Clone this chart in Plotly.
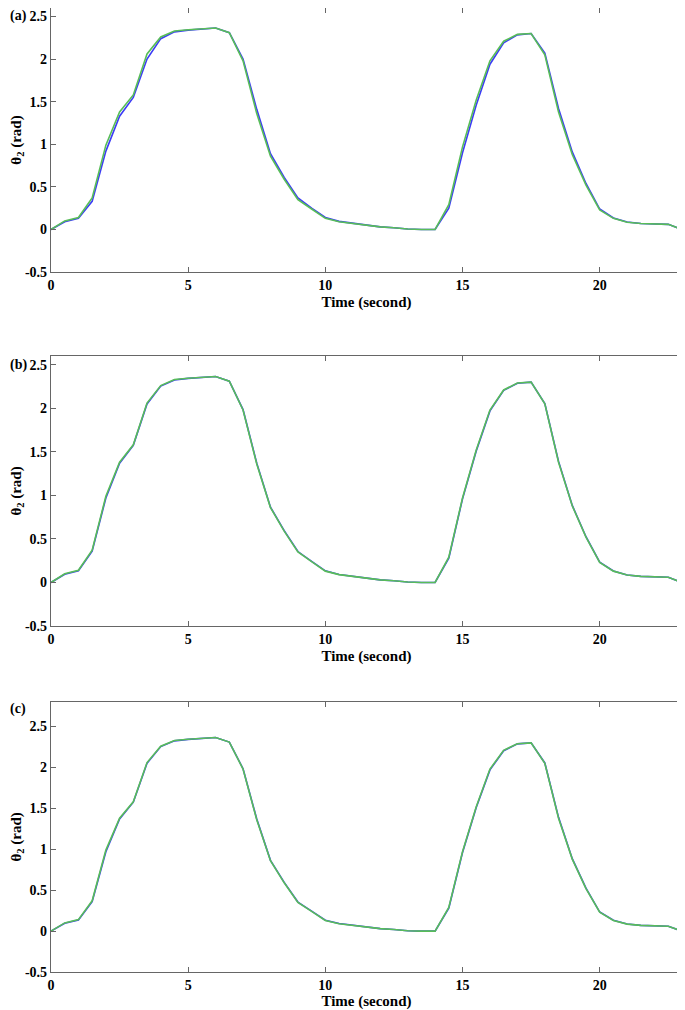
import plotly.graph_objects as go

# time samples (s)
time_s = [0, 0.5, 1, 1.5, 2, 2.5, 3, 3.5, 4, 4.5, 5, 5.5, 6, 6.5, 7, 7.5, 8, 8.5, 9, 9.5,
          10, 10.5, 11, 11.5, 12, 12.5, 13, 13.5, 14, 14.5, 15, 15.5, 16, 16.5, 17, 17.5,
          18, 18.5, 19, 19.5, 20, 20.5, 21, 21.5, 22, 22.5, 23]

# desired theta2 (green)
theta_ref = [0.00, 0.10, 0.14, 0.37, 0.99, 1.38, 1.58, 2.06, 2.26, 2.33, 2.345, 2.355, 2.365,
             2.31, 1.98, 1.36, 0.86, 0.59, 0.35, 0.24, 0.13, 0.09, 0.07, 0.05, 0.03, 0.02,
             0.005, 0.0, 0.0, 0.29, 0.97, 1.52, 1.98, 2.21, 2.29, 2.30, 2.05, 1.38, 0.88,
             0.52, 0.23, 0.13, 0.085, 0.07, 0.065, 0.06, 0.0]

# measured theta2 (blue), panel (a)
theta_a = [0.00, 0.09, 0.13, 0.33, 0.92, 1.33, 1.55, 2.00, 2.24, 2.32, 2.34, 2.35, 2.365,
           2.31, 2.00, 1.41, 0.89, 0.61, 0.37, 0.25, 0.14, 0.095, 0.072, 0.05, 0.03, 0.02,
           0.005, 0.0, 0.0, 0.25, 0.90, 1.46, 1.94, 2.19, 2.285, 2.30, 2.07, 1.42, 0.91,
           0.54, 0.24, 0.135, 0.087, 0.07, 0.065, 0.06, 0.0]

# measured theta2 (blue), panels (b) and (c)
theta_b = [0.00, 0.095, 0.135, 0.36, 0.97, 1.37, 1.575, 2.05, 2.255, 2.325, 2.343, 2.353, 2.365,
           2.31, 1.985, 1.37, 0.865, 0.595, 0.355, 0.243, 0.133, 0.092, 0.071, 0.05, 0.03, 0.02,
           0.005, 0.0, 0.0, 0.28, 0.96, 1.51, 1.97, 2.205, 2.288, 2.30, 2.055, 1.39, 0.885,
           0.525, 0.233, 0.132, 0.086, 0.07, 0.065, 0.06, 0.0]
theta_c = theta_b

panel_labels = ["(a)", "(b)", "(c)"]
y_ranges = [[-0.5, 2.6], [-0.5, 2.6], [-0.5, 2.8]]
y_ticks = [-0.5, 0, 0.5, 1, 1.5, 2, 2.5]
y_ticktext = ["-0.5", "0", "0.5", "1", "1.5", "2", "2.5"]
x_ticks = [0, 5, 10, 15, 20]

# layout (page has 8px body margin, figure sized to fit)
y_domains = [[0.7261, 1.0], [0.3589, 0.639], [0.0, 0.2801]]
label_y = [0.9912, 0.6297, 0.2728]

blue = "#3c3cf5"
green = "#58bd58"
serif = "Liberation Serif"

fig = go.Figure()
layout = {}
annots = []
for i, meas in enumerate([theta_a, theta_b, theta_c]):
    n = "" if i == 0 else str(i + 1)
    fig.add_trace(go.Scatter(x=time_s, y=meas, mode="lines", line=dict(color=blue, width=1.6),
                             xaxis="x" + n, yaxis="y" + n, showlegend=False))
    fig.add_trace(go.Scatter(x=time_s, y=theta_ref, mode="lines", line=dict(color=green, width=1.6),
                             xaxis="x" + n, yaxis="y" + n, showlegend=False))
    axis_common = dict(showline=True, linecolor="#666666", linewidth=1.2, mirror="ticks",
                       ticks="inside", ticklen=5, tickcolor="#666666", showgrid=False,
                       zeroline=False,
                       tickfont=dict(family=serif, size=14, color="black", weight="bold"))
    layout["xaxis" + n] = dict(axis_common, range=[0, 23], tickvals=x_ticks, anchor="y" + n,
                               domain=[0, 1],
                               title=dict(text="Time (second)", standoff=4,
                                          font=dict(family=serif, size=15, color="black",
                                                    weight="bold")))
    layout["yaxis" + n] = dict(axis_common, range=y_ranges[i], tickvals=y_ticks,
                               ticktext=y_ticktext, anchor="x" + n, domain=y_domains[i])
    annots.append(dict(text="θ<sub>2</sub> (rad)", textangle=-90, xref="paper", yref="paper",
                       x=-0.0545, y=sum(y_domains[i]) / 2, xanchor="center",
                       yanchor="middle", showarrow=False,
                       font=dict(family=serif, size=15, color="black", weight="bold")))
    annots.append(dict(text=panel_labels[i], xref="paper", yref="paper", x=-0.068, y=label_y[i],
                       xanchor="left", yanchor="middle", showarrow=False,
                       font=dict(family=serif, size=14, color="black", weight="bold")))

fig.update_layout(**layout)
fig.update_layout(width=677, height=1002, margin=dict(l=43, r=3, t=0, b=38),
                  paper_bgcolor="white", plot_bgcolor="white", annotations=annots)

fig.write_html("out.html")
